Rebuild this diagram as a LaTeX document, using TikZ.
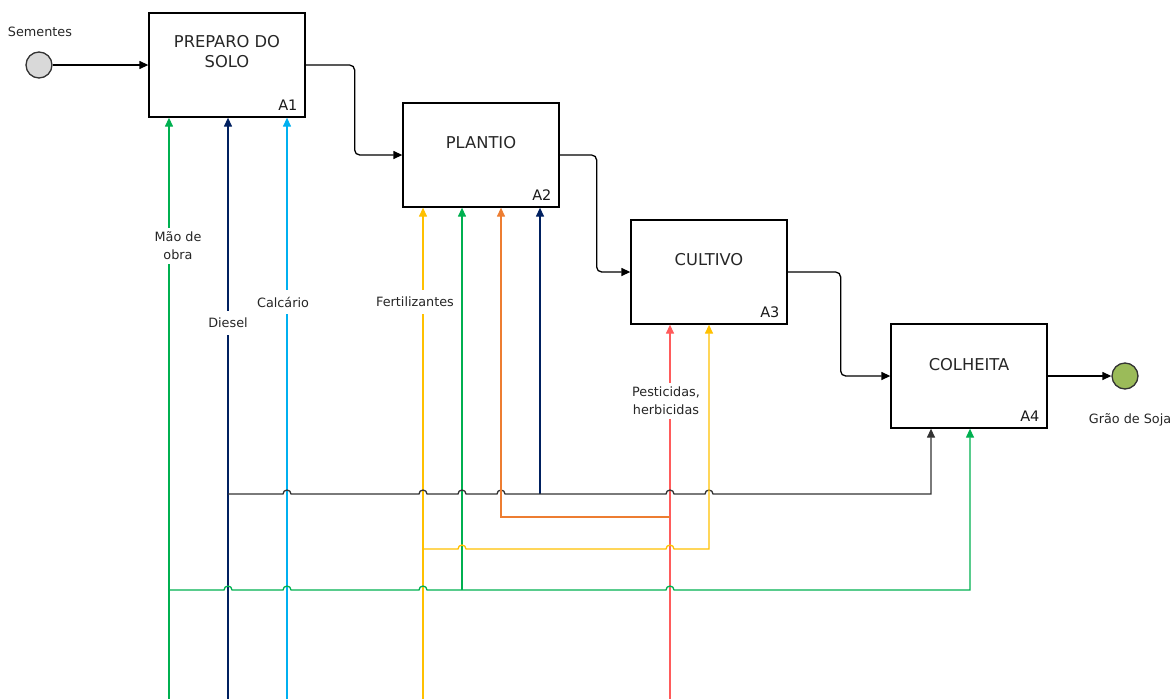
\documentclass[tikz,border=0pt]{standalone}
\usepackage{fontspec}
\setmainfont{DejaVu Sans}
\usetikzlibrary{arrows.meta,calc}
\definecolor{cgreen}{HTML}{00B050}
\definecolor{cnavy}{HTML}{002060}
\definecolor{cblue}{HTML}{00B0F0}
\definecolor{cyellow}{HTML}{FFC000}
\definecolor{corange}{HTML}{ED7D31}
\definecolor{cred}{HTML}{FF5B5B}
\definecolor{cgreyfill}{HTML}{D9D9D9}
\definecolor{csoja}{HTML}{9BBB59}
\definecolor{cline}{HTML}{333333}
\begin{document}
\begin{tikzpicture}[x=1pt,y=-1pt,
  box/.style={draw=black,line width=1.3pt,minimum width=156pt,minimum height=104pt,inner sep=0pt},
  ttl/.style={font=\fontsize{16.3}{20}\selectfont,text=black!85,align=center},
  aid/.style={font=\fontsize{14.5}{16}\selectfont,text=black!90,anchor=base east,inner sep=0pt},
  lbl/.style={font=\fontsize{12.8}{18}\selectfont,text=black!85,align=center,fill=white,inner xsep=2pt,inner ysep=7pt},
  lbltwo/.style={lbl,inner ysep=4pt},
  tip/.style={-{Triangle[length=9pt,width=8pt]}},
  flow/.style={draw=black,line width=1.3pt,tip,rounded corners=5pt},
  feed/.style={line width=1.3pt},
  hopover/.style 2 args={insert path={-- (#1-4,#2) arc[start angle=180,end angle=0,radius=4pt]}},
]
\useasboundingbox (0,0) rectangle (1176,699);

% boxes
\node[box] (A1) at (227,65) {};
\node[box] (A2) at (481,155) {};
\node[box] (A3) at (709,272) {};
\node[box] (A4) at (969,376) {};

\node[ttl] (t1) at ($(A1.north)+(0,39)$) {PREPARO DO\\SOLO};
\node[ttl] (t2) at ($(A2.north)+(0,40)$) {PLANTIO};
\node[ttl] (t3) at ($(A3.north)+(0,40)$) {CULTIVO};
\node[ttl] (t4) at ($(A4.north)+(0,41)$) {COLHEITA};

\node[aid] (a1) at ($(A1.south east)+(-8,-7)$) {A1};
\node[aid] (a2) at ($(A2.south east)+(-8,-7)$) {A2};
\node[aid] (a3) at ($(A3.south east)+(-8,-7)$) {A3};
\node[aid] (a4) at ($(A4.south east)+(-8,-7)$) {A4};

% terminals
\node[circle,draw=black!80,line width=1.3pt,fill=cgreyfill,minimum size=26pt,inner sep=0pt] (sem) at (39,65) {};
\node[font=\fontsize{12.8}{15}\selectfont,text=black!85] (semlbl) at (40,32) {Sementes};
\node[circle,draw=black!80,line width=1.3pt,fill=csoja,minimum size=26pt,inner sep=0pt] (soja) at (1125,376) {};
\node[font=\fontsize{12.8}{15}\selectfont,text=black!85] (sojalbl) at (1130,420) {Grão de Soja};

% main flow
\draw[flow] (sem.east) -- (A1.west);
\draw[flow] (A1.east) -- ++(49,0) |- (A2.west);
\draw[flow] (A2.east) -- ++(37,0) |- (A3.west);
\draw[flow] (A3.east) -- ++(53,0) |- (A4.west);
\draw[flow] (A4.east) -- (soja.west);

% coordinates
\coordinate (mo) at (169,699);
\coordinate (di) at (228,699);
\coordinate (ca) at (287,699);
\coordinate (fe) at (423,699);
\coordinate (pe) at (670,699);
\coordinate (jb) at (228,494);
\coordinate (bk) at (931,494);
\coordinate (jn) at (540,494);
\coordinate (jo) at (670,517);
\coordinate (oc) at (501,517);
\coordinate (jy) at (423,549);
\coordinate (yc) at (709,549);
\coordinate (jg) at (169,590);
\coordinate (jg2) at (462,590);
\coordinate (gk) at (970,590);

% vertical inputs
\draw[feed,tip,cgreen] (mo) -- (mo |- A1.south);
\draw[feed,tip,cnavy] (di) -- (di |- A1.south);
\draw[feed,tip,cblue] (ca) -- (ca |- A1.south);
\draw[feed,tip,cyellow] (fe) -- (fe |- A2.south);
\draw[feed,tip,cred] (pe) -- (pe |- A3.south);
\draw[feed,tip,cgreen] (jg2) -- (jg2 |- A2.south);
\draw[feed,tip,cnavy] (jn) -- (jn |- A2.south);

% labels on the inputs
\node[lbltwo] (lmo) at (178,246) {Mão de\\obra};
\node[lbl] (ldi) at (228,323) {Diesel};
\node[lbl] (lca) at (283,302) {Calcário};
\node[lbl] (lfe) at (415,302) {Fertilizantes};
\node[lbltwo] (lpe) at (666,401) {Pesticidas,\\herbicidas};

% horizontal distribution lines
\draw[feed,tip,cline] (jb) [hopover={287}{494}] [hopover={423}{494}] [hopover={462}{494}]
  [hopover={501}{494}] [hopover={670}{494}] [hopover={709}{494}] -- (bk) -- (bk |- A4.south);
\draw[feed,tip,corange] (jo) -- (oc) -- (oc |- A2.south);
\draw[feed,tip,cyellow] (jy) [hopover={462}{549}] [hopover={670}{549}] -- (yc) -- (yc |- A3.south);
\draw[feed,tip,cgreen] (jg) [hopover={228}{590}] [hopover={287}{590}] [hopover={423}{590}]
  [hopover={670}{590}] -- (gk) -- (gk |- A4.south);
\end{tikzpicture}
\end{document}
